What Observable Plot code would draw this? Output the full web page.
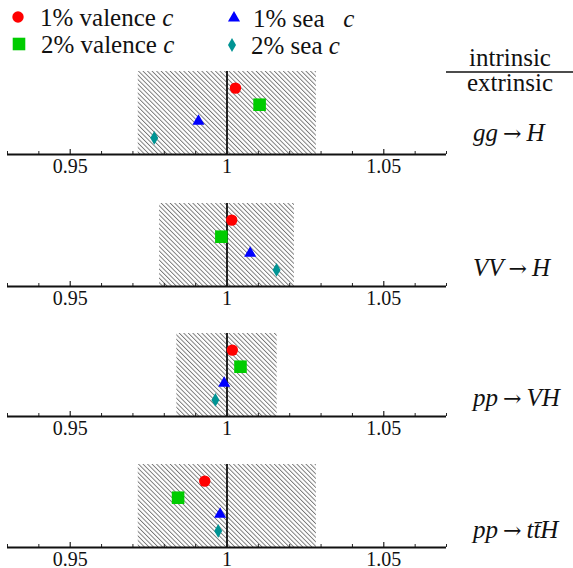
<!DOCTYPE html>
<html>
<head>
<meta charset="utf-8">
<script src="https://cdn.jsdelivr.net/npm/d3@7"></script>
<script src="https://cdn.jsdelivr.net/npm/@observablehq/plot@0.6"></script>
<style>
  body { margin: 0; background: #fff; }
  #chart { position: relative; width: 573px; height: 568px; overflow: hidden; }
  #chart svg.panel { position: absolute; left: 0; }
  #overlay { position: absolute; left: 0; top: 0; }
  #chart svg text { font-family: "Liberation Serif", serif; }
  #chart svg tspan.arrow { font-family: "DejaVu Serif", serif; }
</style>
</head>
<body>
<div id="chart"></div>
<script>
// Production processes (left / right side of the arrow)
const processLhs = ["gg", "VV", "pp", "pp"];
const processRhs = ["H", "H", "VH", "tt\u0304H"];

// Intrinsic uncertainty band for each process
const bandLow  = [0.9717, 0.9785, 0.9840, 0.9717];
const bandHigh = [1.0285, 1.0215, 1.0160, 1.0285];

// Ratio of cross sections with intrinsic charm to the extrinsic-only result
const valence1 = [1.0027, 1.0015, 1.0017, 0.9929];
const valence2 = [1.0104, 0.9982, 1.0043, 0.9844];
const sea1     = [0.9909, 1.0074, 0.9991, 0.9978];
const sea2     = [0.9768, 1.0158, 0.9963, 0.9972];

const seriesNames = ["1% valence", "2% valence", "1% sea\u00a0\u00a0", "2% sea"];

// Axis ticks
const tickLabels = [0.95, 1, 1.05];
const minorTicks = [0.93, 0.94, 0.96, 0.97, 0.98, 0.99, 1.01, 1.02, 1.03, 1.04, 1.06, 1.07];

// Marker styling for each series, with its level inside a panel
const seriesStyle = [
  { values: valence1, name: seriesNames[0], level: 4, symbol: "circle",   type: d3.symbolCircle,   color: "#ff0000", r: 5.7, lx: 18,  ly: 17 },
  { values: valence2, name: seriesNames[1], level: 3, symbol: "square",   type: d3.symbolSquare,   color: "#00cc00", r: 7.1, lx: 19,  ly: 44 },
  { values: sea1,     name: seriesNames[2], level: 2, symbol: "triangle", type: d3.symbolTriangle, color: "#0000ff", r: 4.5, lx: 234, ly: 18 },
  { values: sea2,     name: seriesNames[3], level: 1, symbol: "diamond",  type: d3.symbolDiamond,  color: "#009494", r: 4.2, lx: 232, ly: 45 }
];

const axisY = [154.3, 285.7, 416.3, 546.5];
const labelBaseline = [141, 276, 406, 538];
const innerH = 83, mTop = 2, mBottom = 24;
const serif = "Liberation Serif, serif";

const chart = document.getElementById("chart");

// Diagonal hatching used to fill the uncertainty bands
function hatchDefs(id) {
  return () => {
    const ns = "http://www.w3.org/2000/svg";
    const defs = document.createElementNS(ns, "defs");
    const pat = document.createElementNS(ns, "pattern");
    pat.setAttribute("id", id);
    pat.setAttribute("patternUnits", "userSpaceOnUse");
    pat.setAttribute("width", "3.2");
    pat.setAttribute("height", "3.2");
    pat.setAttribute("patternTransform", "rotate(-45)");
    const bg = document.createElementNS(ns, "rect");
    bg.setAttribute("width", "3.2"); bg.setAttribute("height", "3.2"); bg.setAttribute("fill", "#fff");
    const ln = document.createElementNS(ns, "line");
    ln.setAttribute("x1", "0.5"); ln.setAttribute("x2", "0.5");
    ln.setAttribute("y1", "-1"); ln.setAttribute("y2", "5");
    ln.setAttribute("stroke", "#606060"); ln.setAttribute("stroke-width", "0.8");
    pat.appendChild(bg); pat.appendChild(ln);
    defs.appendChild(pat);
    return defs;
  };
}

processLhs.forEach((lhs, i) => {
  const band = [{ low: bandLow[i], high: bandHigh[i] }];
  const dots = seriesStyle.map(s =>
    Plot.dot([{ value: s.values[i], level: s.level }], {
      x: "value", y: "level", symbol: s.symbol, fill: s.color, r: s.r
    })
  );
  const plot = Plot.plot({
    width: 573,
    height: innerH + mTop + mBottom,
    marginLeft: 7, marginRight: 127, marginTop: mTop, marginBottom: mBottom,
    x: { domain: [0.93, 1.07] },
    y: { domain: [0, 5], axis: null },
    style: { fontFamily: serif, fontSize: "20px", background: "transparent", color: "#111", overflow: "visible" },
    marks: [
      hatchDefs(`hatch-${i}`),
      Plot.rect(band, { x1: "low", x2: "high", fill: `url(#hatch-${i})` }),
      Plot.ruleX([1], { stroke: "#222", strokeWidth: 2 }),
      Plot.tickX(minorTicks, { x: d => d, insetTop: innerH - 3, stroke: "#222", strokeWidth: 1 }),
      Plot.tickX(tickLabels, { x: d => d, insetTop: innerH - 5, stroke: "#222", strokeWidth: 1.2 }),
      Plot.ruleY([0], { stroke: "#111", strokeWidth: 1.8 }),
      Plot.axisX({ ticks: tickLabels, tickSize: 0, tickPadding: 4, tickFormat: d => String(d), fill: "#111", fontSize: 20 }),
      ...dots
    ]
  });
  plot.classList.add("panel");
  plot.style.top = (axisY[i] - innerH - mTop) + "px";
  chart.appendChild(plot);
});

// Legend, ratio heading and process labels
const svg = d3.select(chart).append("svg")
  .attr("id", "overlay").attr("width", 573).attr("height", 568)
  .attr("font-family", serif);

seriesStyle.forEach(s => {
  svg.append("path")
    .attr("transform", `translate(${s.lx},${s.ly})`)
    .attr("d", d3.symbol().type(s.type).size(Math.PI * s.r * s.r)())
    .attr("fill", s.color);
  const t = svg.append("text")
    .attr("x", s.lx + (s.lx < 100 ? 22 : 19)).attr("y", s.ly + 9)
    .attr("font-size", 25).attr("fill", "#111");
  t.append("tspan").text(s.name + " ");
  t.append("tspan").attr("font-style", "italic").text("c");
});

svg.append("text").attr("x", 510).attr("y", 66).attr("text-anchor", "middle")
  .attr("font-size", 25).attr("fill", "#111").text("intrinsic");
svg.append("line").attr("x1", 446).attr("x2", 573).attr("y1", 72).attr("y2", 72)
  .attr("stroke", "#111").attr("stroke-width", 1.5);
svg.append("text").attr("x", 510).attr("y", 91).attr("text-anchor", "middle")
  .attr("font-size", 25).attr("fill", "#111").text("extrinsic");

processLhs.forEach((lhs, i) => {
  const t = svg.append("text").attr("x", 473).attr("y", labelBaseline[i])
    .attr("font-size", 25).attr("fill", "#111");
  t.append("tspan").attr("font-style", "italic").text(lhs + "\u2009");
  t.append("tspan").attr("class", "arrow").attr("font-size", 22).text("\u2192");
  t.append("tspan").attr("font-style", "italic").text("\u2009" + processRhs[i]);
});
</script>
</body>
</html>
